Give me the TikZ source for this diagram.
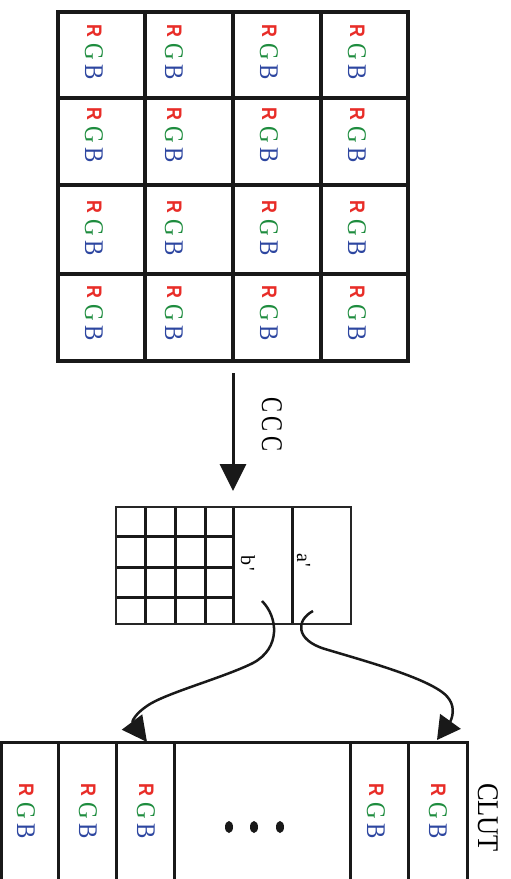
\documentclass[tikz,border=0pt]{standalone}
\usepackage{fontspec}
\setmainfont{Liberation Serif}
\setsansfont{Liberation Sans}
\usetikzlibrary{arrows.meta,shapes.geometric}
\definecolor{cR}{RGB}{232,45,40}
\definecolor{cG}{RGB}{30,140,62}
\definecolor{cB}{RGB}{45,70,160}
\newcommand{\rgbstack}{%
 \raisebox{2pt}{\scalebox{0.85}[1]{\fontsize{21}{21}\selectfont\sffamily\bfseries\color{cR}R}}%
 \hspace{7pt}%
 \scalebox{0.85}[1]{\fontsize{27}{27}\selectfont\color{cG}G}%
 \hspace{4pt}%
 \scalebox{0.85}[1]{\fontsize{27}{27}\selectfont\color{cB}B}}
\tikzset{
  rgbl/.style={rotate=-90, anchor=base west, inner sep=0pt, outer sep=0pt},
  lbl/.style={rotate=-90, anchor=base west, inner sep=0pt, outer sep=0pt, text=black},
  thickgrid/.style={line width=3.5pt, black!90},
  midgrid/.style={line width=3pt, black!90},
  outline/.style={line width=2.5pt, black!85},
  conn/.style={line width=2.5pt, black!90},
  dotmark/.style={ellipse, fill=black!90, draw=none, minimum width=8pt, minimum height=12pt, inner sep=0pt}
}
\begin{document}
\begin{tikzpicture}[x=1pt,y=-1pt]
\useasboundingbox (0,0) rectangle (511,879);
% ---------- top 4x4 grid ----------
\draw[thickgrid] (58,12) rectangle (408,361);
\foreach \xx in {145,233,321} \draw[thickgrid] (\xx,12) -- (\xx,361);
\foreach \yy in {98,185,274} \draw[thickgrid] (58,\yy) -- (408,\yy);
% RGB labels in grid
\foreach \xx/\cc in {85/1,165/2,260/3,348/4}{
  \foreach \yy/\rr in {24/1,107/2,200/3,285/4}{
    \node[rgbl] (t\rr\cc) at (\xx,\yy) {\rgbstack};
  }
}
% ---------- CCC arrow ----------
\coordinate (cccstart) at (233,373);
\coordinate (ccctip) at (233,491);
\draw[line width=3pt, black!90, -{Triangle[width=26pt,length=27pt]}] (cccstart) -- (ccctip);
\node[lbl] (ccc) at (262,397) {\scalebox{0.75}[1]{\fontsize{30}{30}\selectfont C\hspace{6pt}C\hspace{6pt}C}};
% ---------- middle box ----------
\foreach \xx in {145,175,205,233,292} \draw[midgrid] (\xx,507) -- (\xx,624);
\foreach \yy in {536,567,597} \draw[midgrid] (116,\yy) -- (233,\yy);
\draw[outline] (116,507) rectangle (351,624);
\node[lbl] (bp) at (241,555) {\fontsize{20}{20}\selectfont b\kern2pt\textquotesingle};
\node[lbl] (ap) at (297,553) {\fontsize{20}{20}\selectfont a\kern2pt\textquotesingle};
% ---------- CLUT ----------
\draw[midgrid] (1,742) rectangle (467,900);
\foreach \xx in {58,116,174,350,408} \draw[midgrid] (\xx,742) -- (\xx,900);
\foreach \xx/\cc in {17/1,79/2,137/3,367/5,429/6}{
  \node[rgbl] (c\cc) at (\xx,783) {\rgbstack};
}
\node[dotmark] (d1) at (229,827) {};
\node[dotmark] (d2) at (254,827) {};
\node[dotmark] (d3) at (280,827) {};
\node[lbl] (clut) at (478,783) {\scalebox{0.88}[1]{\fontsize{30}{30}\selectfont CLUT}};
% ---------- curved connectors ----------
\coordinate (bstart) at (262,601);
\coordinate (btip) at (147,742);
\coordinate (astart) at (313,611);
\coordinate (atip) at (437,740);
\draw[conn, -{Triangle[width=25pt,length=25pt]}] (bstart)
  .. controls (278,617) and (281,648) .. (253,663)
  .. controls (225,677) and (170,692) .. (150,704)
  .. controls (134,714) and (132,722) .. (btip);
\draw[conn, -{Triangle[width=25pt,length=23pt]}] (astart)
  .. controls (296,620) and (295,640) .. (325,649)
  .. controls (365,661) and (420,676) .. (442,692)
  .. controls (460,705) and (450,722) .. (atip);
\end{tikzpicture}
\end{document}
